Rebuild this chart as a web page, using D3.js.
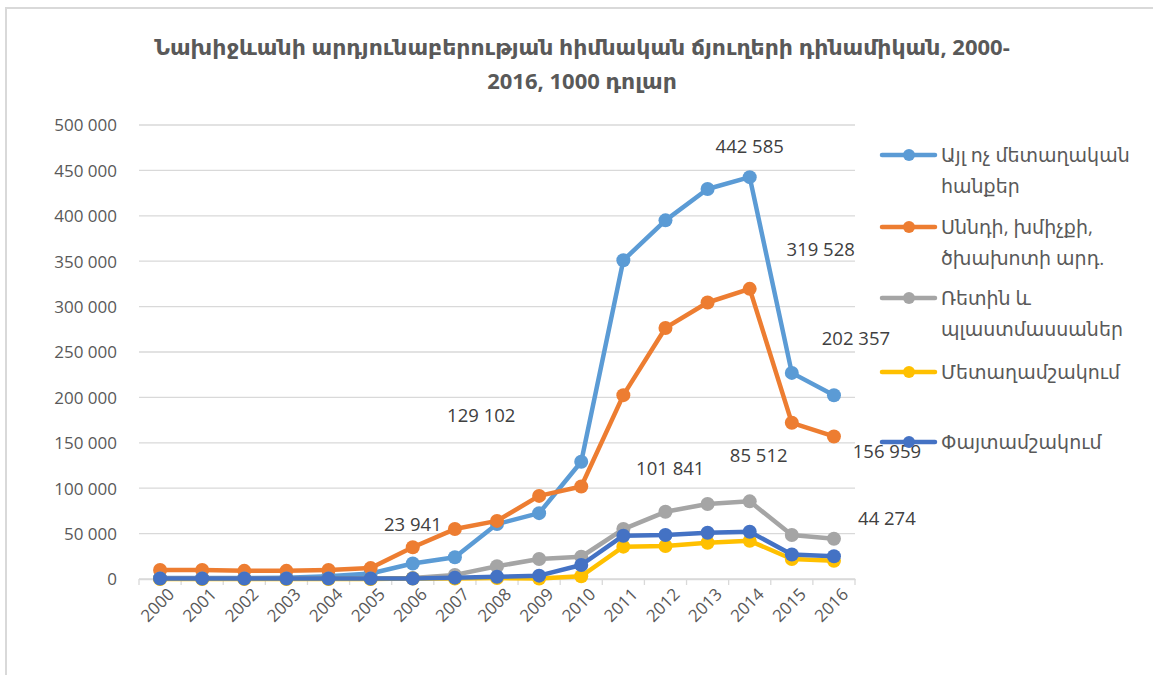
<!DOCTYPE html>
<html>
<head>
<meta charset="utf-8">
<script src="https://cdn.jsdelivr.net/npm/d3@7"></script>
<style>
  body { margin: 0; background: #fff; }
  text { font-family: "Open Sans", "Noto Sans", "DejaVu Sans", sans-serif; fill: #595959; }
</style>
</head>
<body>
<div id="chart"></div>
<script>
// DATA
const years = ['2000','2001','2002','2003','2004','2005','2006','2007','2008','2009','2010','2011','2012','2013','2014','2015','2016']
const seriesNames = ['Այլ ոչ մետաղական հանքեր', 'Սննդի, խմիչքի, ծխախոտի արդ.', 'Ռետին և պլաստմասսաներ', 'Մետաղամշակում', 'Փայտամշակում']
const nonMetal = [1000, 1000, 1000, 1500, 3000, 6000, 17000, 23941, 60500, 72500, 129102, 351000, 395000, 429500, 442585, 227000, 202357]
const food     = [10000, 10000, 9000, 9000, 10000, 12000, 35000, 55000, 64000, 91500, 101841, 202500, 276500, 304500, 319528, 172000, 156959]
const rubber   = [500, 500, 500, 500, 500, 500, 1000, 4500, 14000, 22000, 24500, 55000, 74000, 82600, 85512, 48500, 44274]
const metal    = [0, 0, 0, 0, 0, 0, 500, 500, 1000, 500, 3000, 35600, 36300, 40000, 42000, 22000, 20000]
const wood     = [500, 500, 500, 500, 500, 500, 500, 1500, 2500, 3700, 15400, 47700, 48500, 51000, 52000, 27000, 25000]
const yTicks = [0, 50000, 100000, 150000, 200000, 250000, 300000, 350000, 400000, 450000, 500000]

// labels shown on the chart: series index, year index
const labelPoints = [[0, 7], [0, 10], [0, 14], [0, 16], [1, 10], [1, 14], [1, 16], [2, 14], [2, 16]]
// where Excel dropped them, relative to the point
const labelShift = [[-42, -33], [-100, -46], [0, -31], [22, -57], [89, -18], [71, -39], [53, 15], [9, -46], [53, -20]]

const colors = ['#5b9bd5', '#ed7d31', '#a5a5a5', '#ffc000', '#4472c4']
const allSeries = [nonMetal, food, rubber, metal, wood]

var width = 1153, height = 675
var margin = {top: 125, left: 139, right: 855, bottom: 579}

var svg = d3.select('#chart').append('svg')
    .attr('width', width)
    .attr('height', height)

// frame
svg.append('rect')
    .attr('x', 6).attr('y', 8)
    .attr('width', width + 20).attr('height', height + 20)
    .attr('fill', 'none')
    .attr('stroke', '#d9d9d9')
    .attr('stroke-width', 2)

var x = d3.scaleBand()
    .domain(years)
    .range([margin.left, margin.right])

var y = d3.scaleLinear()
    .domain([0, 500000])
    .range([margin.bottom, margin.top])

var fmt = function(d) { return d3.format(',')(d).replace(/,/g, ' ') }

// gridlines
svg.append('g')
    .selectAll('line')
    .data(yTicks)
    .enter().append('line')
        .attr('x1', margin.left)
        .attr('x2', margin.right)
        .attr('y1', function(d) { return y(d) })
        .attr('y2', function(d) { return y(d) })
        .attr('stroke', '#d9d9d9')
        .attr('stroke-width', 1.3)

// y axis
var yAxis = svg.append('g')
    .attr('transform', `translate(${margin.left - 19},0)`)
    .call(d3.axisLeft(y).tickValues(yTicks).tickSize(0).tickFormat(fmt))
yAxis.select('.domain').remove()
yAxis.selectAll('text')
    .style('font-size', '17px')
    .attr('dy', '0.35em')

// x axis
var xAxis = svg.append('g')
    .attr('transform', `translate(0,${margin.bottom})`)
    .call(d3.axisBottom(x).tickSize(0))
xAxis.select('.domain')
    .attr('stroke', '#d9d9d9')
    .attr('stroke-width', 1.3)
xAxis.selectAll('.tick text')
    .style('font-size', '17px')
    .attr('text-anchor', 'end')
    .attr('transform', 'translate(7,8) rotate(-45)')
    .attr('dy', '0.7em')
    .attr('y', 0)
// small tick marks between categories
xAxis.selectAll('.cat-tick')
    .data(years.concat(['end']))
    .enter().append('line')
        .attr('x1', function(d, i) { return margin.left + i * x.step() })
        .attr('x2', function(d, i) { return margin.left + i * x.step() })
        .attr('y1', 0).attr('y2', 6)
        .attr('stroke', '#d9d9d9')
        .attr('stroke-width', 1.3)

var line = d3.line()
    .x(function(d, i) { return x(years[i]) + x.bandwidth() / 2 })
    .y(function(d) { return y(d) })

allSeries.forEach(function(vals, s) {
    let g = svg.append('g')
    g.append('path')
        .datum(vals)
        .attr('d', line)
        .attr('fill', 'none')
        .attr('stroke', colors[s])
        .attr('stroke-width', 4.5)
        .attr('stroke-linejoin', 'round')
    g.selectAll('circle')
        .data(vals)
        .enter().append('circle')
            .attr('cx', function(d, i) { return x(years[i]) + x.bandwidth() / 2 })
            .attr('cy', function(d) { return y(d) })
            .attr('r', 7)
            .attr('fill', colors[s])
})

// data labels
svg.append('g')
    .selectAll('text')
    .data(labelPoints)
    .enter().append('text')
        .attr('x', function(d, i) { return x(years[d[1]]) + x.bandwidth() / 2 + labelShift[i][0] })
        .attr('y', function(d, i) { return y(allSeries[d[0]][d[1]]) + labelShift[i][1] })
        .attr('text-anchor', 'middle')
        .attr('dy', '0.35em')
        .style('font-size', '18.5px')
        .style('fill', '#404040')
        .text(function(d) { return fmt(allSeries[d[0]][d[1]]) })

// title
var title = svg.append('text')
    .attr('x', 582)
    .attr('text-anchor', 'middle')
    .style('font-size', '22px')
    .style('font-weight', 'bold')
title.append('tspan').attr('x', 582).attr('y', 55)
    .text('Նախիջևանի արդյունաբերության հիմնական ճյուղերի դինամիկան, 2000-')
title.append('tspan').attr('x', 582).attr('y', 89)
    .text('2016, 1000 դոլար')

// legend
var legendLines = [['Այլ ոչ մետաղական', 'հանքեր'], ['Սննդի, խմիչքի,', 'ծխախոտի արդ.'], ['Ռետին և', 'պլաստմասսաներ'], ['Մետաղամշակում'], ['Փայտամշակում']]
var legendY = [155, 227, 298, 372, 442]
var legend = svg.append('g').attr('class', 'legend')
seriesNames.forEach(function(name, i) {
    let item = legend.append('g').attr('transform', `translate(882,${legendY[i]})`)
    item.append('line')
        .attr('x1', 0).attr('x2', 53)
        .attr('stroke', colors[i])
        .attr('stroke-width', 4.5)
        .attr('stroke-linecap', 'round')
    item.append('circle')
        .attr('cx', 27).attr('r', 6)
        .attr('fill', colors[i])
    let t = item.append('text')
        .attr('x', 59)
        .style('font-size', '19px')
    legendLines[i].forEach(function(l, j) {
        t.append('tspan').attr('x', 59).attr('y', j * 31).attr('dy', '0.35em').text(l)
    })
})
</script>
</body>
</html>
